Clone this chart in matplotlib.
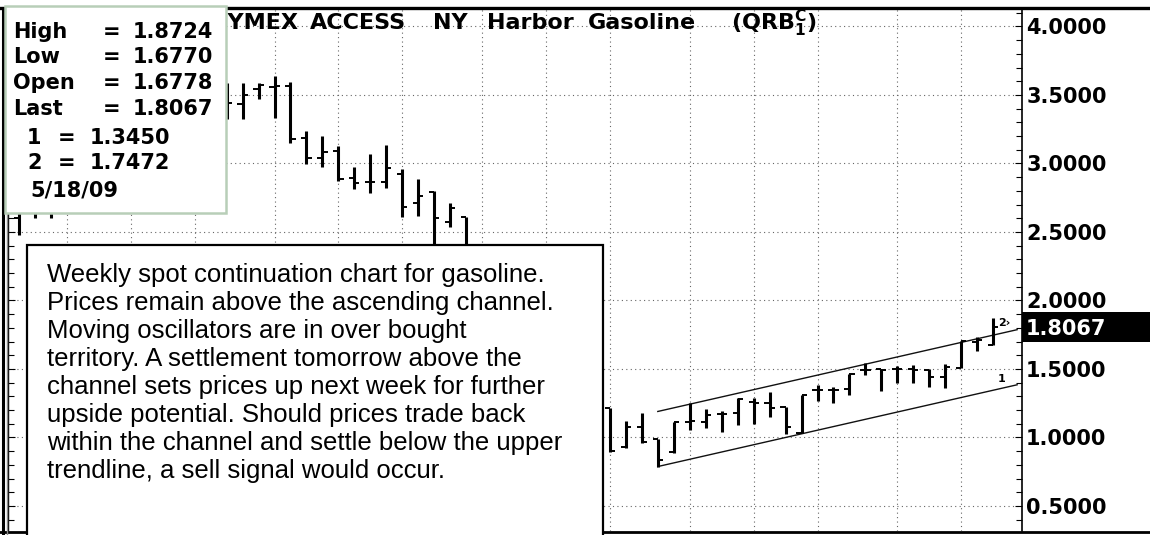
import matplotlib
matplotlib.use("Agg")
import matplotlib.pyplot as plt
import matplotlib.transforms as mtransforms
from matplotlib.patches import Rectangle
from matplotlib.ticker import MultipleLocator, FormatStrFormatter
import numpy as np

# weekly OHLC, NY Harbor gasoline spot continuation, 62 weeks up to 5/18/09
opens = [2.60, 2.70, 2.78, 2.85, 2.95, 3.05, 3.15, 3.25, 3.30, 3.35, 3.45, 3.40, 3.50,
         3.50, 3.432, 3.542, 3.56, 3.568, 3.184, 3.038, 3.093, 2.892, 2.867, 2.867, 2.923, 2.71, 2.794, 2.575, 2.61,
         2.20, 1.80, 1.55, 1.35, 1.30, 1.25, 1.10, 1.05,
         1.215, 0.933, 1.079, 0.987, 0.896, 1.115, 1.115, 1.17, 1.177, 1.26, 1.255, 1.22, 1.035,
         1.35, 1.35, 1.353, 1.49, 1.50, 1.497, 1.497, 1.493, 1.445, 1.505, 1.70, 1.6778]
highs = [2.75, 2.82, 2.90, 3.00, 3.10, 3.20, 3.30, 3.40, 3.45, 3.55, 3.60, 3.55, 3.62,
         3.588, 3.585, 3.59, 3.639, 3.597, 3.24, 3.20, 3.128, 2.972, 3.069, 3.135, 2.958, 2.885, 2.80, 2.714, 2.61,
         2.30, 1.90, 1.65, 1.50, 1.45, 1.40, 1.25, 1.22,
         1.215, 1.123, 1.177, 0.987, 1.115, 1.25, 1.206, 1.196, 1.286, 1.286, 1.334, 1.225, 1.31,
         1.383, 1.366, 1.465, 1.546, 1.50, 1.522, 1.53, 1.50, 1.537, 1.707, 1.731, 1.8724]
lows = [2.48, 2.60, 2.60, 2.80, 2.90, 2.98, 3.05, 3.15, 3.20, 3.25, 3.35, 3.30, 3.38,
        3.325, 3.323, 3.469, 3.33, 3.152, 2.996, 2.977, 2.875, 2.812, 2.787, 2.819, 2.607, 2.617, 2.25, 2.534, 2.10,
        1.70, 1.45, 1.25, 1.20, 1.15, 1.05, 0.98, 0.95,
        0.896, 0.921, 0.958, 0.788, 0.884, 1.058, 1.07, 1.042, 1.091, 1.10, 1.152, 1.026, 1.031,
        1.266, 1.25, 1.31, 1.456, 1.342, 1.40, 1.40, 1.367, 1.359, 1.505, 1.634, 1.6770]
closes = [2.70, 2.78, 2.85, 2.95, 3.05, 3.15, 3.25, 3.30, 3.35, 3.45, 3.40, 3.50, 3.45,
          3.442, 3.50, 3.573, 3.566, 3.177, 3.038, 3.086, 2.885, 2.86, 2.867, 2.969, 2.685, 2.763, 2.604, 2.673, 2.20,
          1.80, 1.55, 1.35, 1.30, 1.25, 1.10, 1.05, 1.18,
          0.905, 1.079, 0.969, 0.836, 1.115, 1.12, 1.164, 1.17, 1.279, 1.255, 1.213, 1.079, 1.31,
          1.35, 1.35, 1.462, 1.49, 1.49, 1.497, 1.49, 1.445, 1.517, 1.707, 1.715, 1.8067]

# week index of first bar of each month (vertical grid)
month_starts = [3, 7, 11, 16, 20, 24, 29, 33, 37, 42, 46, 50, 55, 59]

# channel trendlines (week index, price)
channel_idx = [40, 61]
channel_lower = [0.788, 1.345]
channel_upper = [1.190, 1.7472]

info_labels = ["High", "Low", "Open", "Last"]
info_values = ["1.8724", "1.6770", "1.6778", "1.8067"]
line_names = ["1", "2"]
line_values = ["1.3450", "1.7472"]
last_date = "5/18/09"

title_words = ["NYMEX", "ACCESS", "NY", "Harbor", "Gasoline", r"(QRB$^{\mathbf{C}}_{\mathbf{1}}$)"]
title_x = [209, 310, 433, 487, 588, 731]

comment_lines = [
    "Weekly spot continuation chart for gasoline.",
    "Prices remain above the ascending channel.",
    "Moving oscillators are in over bought",
    "territory. A settlement tomorrow above the",
    "channel sets prices up next week for further",
    "upside potential. Should prices trade back",
    "within the channel and settle below the upper",
    "trendline, a sell signal would occur.",
]

W, H = 1150, 535
plt.rcParams['mathtext.fontset'] = 'dejavusans'
fig = plt.figure(figsize=(W / 100, H / 100), dpi=100, facecolor='white')

# plot area in pixels
px0, px1, py0, py1 = 8, 1022, 8, 531
ax = fig.add_axes([px0 / W, 1 - py1 / H, (px1 - px0) / W, (py1 - py0) / H], zorder=1)
ax.set_xlim(-0.689, 62.805)
ax.set_ylim(0.3175, 4.135)

x = np.arange(len(opens))
ax.vlines(x, lows, highs, color='black', lw=2.2, zorder=3)
ax.hlines(opens, x - 0.32, x, color='black', lw=1.4, zorder=3)
ax.hlines(closes, x, x + 0.32, color='black', lw=1.4, zorder=3)

# channel
slope = (channel_lower[1] - channel_lower[0]) / (channel_idx[1] - channel_idx[0])
x_end = 62.5
lx = [channel_idx[0], x_end]
ax.plot(lx, [channel_lower[0], channel_lower[1] + slope * (x_end - channel_idx[1])], color='#111', lw=1.0, zorder=2)
ax.plot(lx, [channel_upper[0], channel_upper[1] + slope * (x_end - channel_idx[1])], color='#111', lw=1.0, zorder=2)
ax.text(61.5, channel_lower[1] + 0.08, line_names[0], fontsize=8, fontweight='bold', ha='center', va='center')
ax.text(61.3, channel_upper[1] + 0.09, line_names[1] + "\u203a", fontsize=8, fontweight='bold', ha='left', va='center')

# grid
ax.set_xticks(month_starts)
ax.yaxis.set_major_locator(MultipleLocator(0.5))
ax.yaxis.set_minor_locator(MultipleLocator(0.1))
ax.yaxis.set_major_formatter(FormatStrFormatter('%.4f'))
ax.grid(True, which='major', color='#666', lw=0.8, linestyle=(0, (1, 3)))
ax.tick_params(axis='x', length=0, labelbottom=False)
ax.tick_params(axis='y', which='both', left=True, right=True, labelleft=False, labelright=True,
               direction='in', length=4, width=0.8)
ax.tick_params(axis='y', which='major', length=5, pad=3)
for lab in ax.get_yticklabels():
    lab.set_fontfamily('DejaVu Sans')
    lab.set_fontweight('bold')
    lab.set_fontsize(15)
for side in ['top', 'bottom']:
    ax.spines[side].set_visible(False)
ax.spines['left'].set_linewidth(1.0)
ax.spines['right'].set_linewidth(1.2)

# last price tag
blend = mtransforms.blended_transform_factory(fig.transFigure, ax.transData)
ax.add_patch(Rectangle((px1 / W, closes[-1] - 0.11), (W - px1) / W, 0.22, transform=blend,
                       facecolor='black', edgecolor='none', clip_on=False, zorder=4))
ax.text(1026 / W, closes[-1], f"{closes[-1]:.4f}", transform=blend, color='white', fontsize=15,
        fontweight='bold', va='center_baseline', ha='left', zorder=5, clip_on=False)

# overlay in pixel coordinates: frame, title, boxes
ov = fig.add_axes([0, 0, 1, 1], zorder=3)
ov.set_xlim(0, W)
ov.set_ylim(H, 0)
ov.axis('off')
ov.patch.set_alpha(0)

ov.plot([0, W], [8, 8], color='black', lw=2.4)
ov.plot([0, W], [532, 532], color='black', lw=2.0)
ov.plot([3, 3], [8, 535], color='black', lw=2.2)
ov.plot([6.5, 6.5], [8, 535], color='#888', lw=1.0)

for word, wx in zip(title_words, title_x):
    ov.text(wx, 23, word, fontsize=16, fontweight='bold', fontfamily='DejaVu Sans', ha='left', va='center')

# info box
ov.add_patch(Rectangle((5, 6), 221, 207, facecolor='white', edgecolor='#b8ceb8', lw=1.8, zorder=5))
info_y = [32, 57, 83, 109]
for lab, val, yy in zip(info_labels, info_values, info_y):
    ov.text(13, yy, lab, fontsize=15, fontweight='bold', va='center', ha='left', zorder=6)
    ov.text(103, yy, "=", fontsize=15, fontweight='bold', va='center', ha='left', zorder=6)
    ov.text(133, yy, val, fontsize=15, fontweight='bold', va='center', ha='left', zorder=6)
for name, val, yy in zip(line_names, line_values, [138, 163]):
    ov.text(27, yy, name, fontsize=15, fontweight='bold', va='center', ha='left', zorder=6)
    ov.text(58, yy, "=", fontsize=15, fontweight='bold', va='center', ha='left', zorder=6)
    ov.text(90, yy, val, fontsize=15, fontweight='bold', va='center', ha='left', zorder=6)
ov.text(30, 190, last_date, fontsize=15, fontweight='bold', va='center', ha='left', zorder=6)

# commentary box
ov.add_patch(Rectangle((27, 245), 576, 310, facecolor='white', edgecolor='black', lw=1.6, zorder=5))
for k, line in enumerate(comment_lines):
    ov.text(47, 282 + 28 * k, line, fontsize=18.5, fontfamily='Liberation Sans',
            va='baseline', ha='left', zorder=6)

fig.savefig("out.png", dpi=100, facecolor='white')
